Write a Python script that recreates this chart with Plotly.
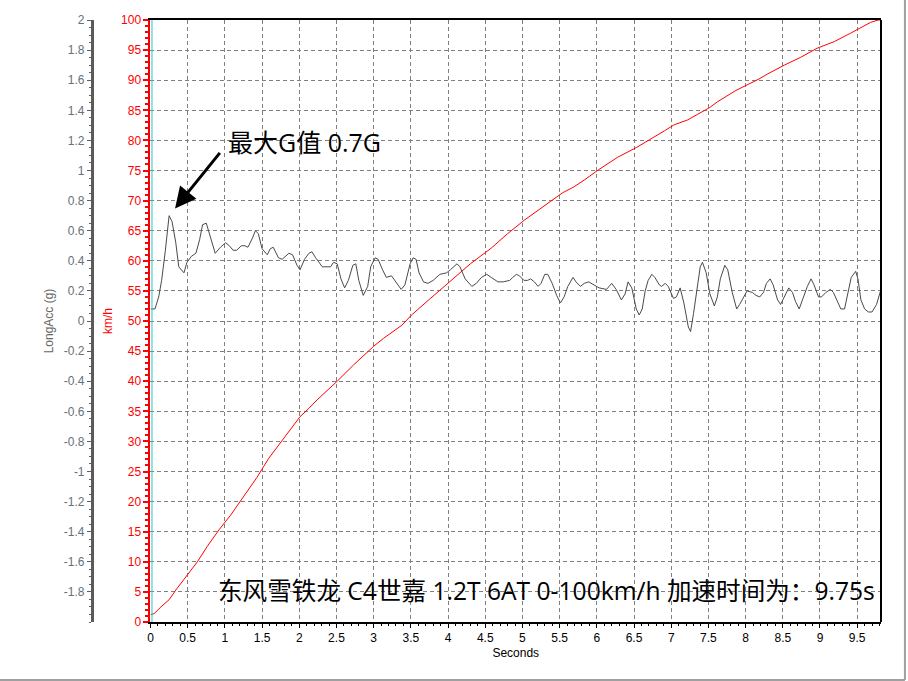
import plotly.graph_objects as go

# ---- data ----
acc_t = [0.00, 0.06, 0.11, 0.15, 0.20, 0.25, 0.29, 0.34, 0.38, 0.45, 0.49, 0.55, 0.61, 0.66, 0.70, 0.75,
         0.81, 0.87, 0.94, 1.01, 1.06, 1.11, 1.16, 1.22, 1.27, 1.31, 1.37, 1.41, 1.45, 1.50, 1.57, 1.61,
         1.65, 1.72, 1.77, 1.86, 1.91, 1.97, 2.01, 2.07, 2.13, 2.17, 2.22, 2.31, 2.42, 2.46, 2.51, 2.56,
         2.61, 2.66, 2.72, 2.76, 2.80, 2.86, 2.92, 2.96, 3.02, 3.06, 3.12, 3.17, 3.24, 3.31, 3.37, 3.42,
         3.49, 3.53, 3.57, 3.61, 3.67, 3.73, 3.80, 3.89, 3.98, 4.03, 4.12, 4.16, 4.23, 4.32, 4.38, 4.45,
         4.52, 4.58, 4.67, 4.74, 4.83, 4.87, 4.92, 4.96, 5.02, 5.07, 5.11, 5.16, 5.21, 5.25, 5.30, 5.34,
         5.40, 5.46, 5.51, 5.56, 5.61, 5.68, 5.72, 5.78, 5.83, 5.89, 5.97, 6.03, 6.13, 6.20, 6.26, 6.33,
         6.38, 6.42, 6.47, 6.53, 6.57, 6.61, 6.65, 6.69, 6.74, 6.78, 6.84, 6.87, 6.92, 6.96, 7.03, 7.07,
         7.12, 7.17, 7.23, 7.26, 7.30, 7.35, 7.39, 7.42, 7.47, 7.52, 7.58, 7.62, 7.66, 7.72, 7.76, 7.82,
         7.88, 7.92, 7.98, 8.02, 8.09, 8.14, 8.19, 8.24, 8.28, 8.33, 8.37, 8.43, 8.47, 8.51, 8.58, 8.63,
         8.67, 8.72, 8.77, 8.83, 8.88, 8.92, 8.98, 9.02, 9.08, 9.14, 9.18, 9.23, 9.28, 9.33, 9.37, 9.42,
         9.48, 9.51, 9.55, 9.60, 9.65, 9.70, 9.76, 9.82]
acc_g = [0.08, 0.08, 0.16, 0.27, 0.47, 0.70, 0.66, 0.52, 0.36, 0.32, 0.39, 0.43, 0.45, 0.54, 0.64, 0.65,
         0.55, 0.45, 0.49, 0.52, 0.50, 0.47, 0.47, 0.50, 0.50, 0.49, 0.55, 0.60, 0.58, 0.48, 0.44, 0.48,
         0.49, 0.42, 0.41, 0.45, 0.44, 0.37, 0.34, 0.41, 0.45, 0.46, 0.42, 0.36, 0.36, 0.39, 0.38, 0.28,
         0.22, 0.27, 0.37, 0.38, 0.27, 0.17, 0.23, 0.36, 0.42, 0.41, 0.34, 0.29, 0.30, 0.25, 0.21, 0.24,
         0.38, 0.42, 0.41, 0.32, 0.26, 0.25, 0.27, 0.31, 0.32, 0.34, 0.38, 0.36, 0.28, 0.23, 0.25, 0.29,
         0.31, 0.29, 0.26, 0.26, 0.27, 0.29, 0.31, 0.30, 0.27, 0.27, 0.28, 0.26, 0.23, 0.25, 0.31, 0.31,
         0.25, 0.17, 0.12, 0.16, 0.23, 0.29, 0.26, 0.23, 0.25, 0.26, 0.24, 0.22, 0.21, 0.25, 0.21, 0.14,
         0.18, 0.26, 0.22, 0.08, 0.04, 0.08, 0.20, 0.27, 0.31, 0.29, 0.24, 0.23, 0.25, 0.23, 0.15, 0.16,
         0.22, 0.12, -0.04, -0.07, 0.05, 0.24, 0.36, 0.39, 0.32, 0.18, 0.10, 0.16, 0.28, 0.37, 0.34, 0.19,
         0.08, 0.11, 0.16, 0.20, 0.19, 0.17, 0.16, 0.19, 0.25, 0.28, 0.24, 0.14, 0.11, 0.15, 0.22, 0.19,
         0.13, 0.08, 0.15, 0.23, 0.28, 0.24, 0.16, 0.16, 0.19, 0.21, 0.19, 0.13, 0.08, 0.08, 0.17, 0.29,
         0.33, 0.28, 0.14, 0.08, 0.06, 0.06, 0.11, 0.21]

spd_t = [0.00, 0.05, 0.14, 0.25, 0.34, 0.50, 0.63, 0.76, 0.92, 1.08, 1.26, 1.43, 1.59, 1.77, 1.90, 2.01,
         2.13, 2.24, 2.51, 2.64, 2.73, 3.00, 3.13, 3.38, 3.51, 3.74, 4.05, 4.30, 4.58, 4.80, 5.03, 5.25,
         5.41, 5.54, 5.68, 5.83, 6.02, 6.28, 6.53, 6.73, 6.91, 7.04, 7.22, 7.35, 7.51, 7.62, 7.87, 8.18,
         8.29, 8.52, 8.74, 8.96, 9.19, 9.41, 9.68, 9.78, 9.82]
spd_kmh = [1.2, 1.4, 2.5, 3.7, 5.3, 7.8, 10.0, 12.5, 15.3, 17.8, 21.0, 24.0, 27.2, 30.2, 32.2, 34.1,
           35.5, 36.9, 40.0, 41.6, 42.7, 45.8, 47.1, 49.3, 51.0, 53.5, 56.8, 59.5, 62.1, 64.5, 66.8, 68.7,
           70.1, 71.3, 72.2, 73.4, 75.1, 77.2, 78.8, 80.2, 81.6, 82.6, 83.4, 84.3, 85.4, 86.4, 88.3, 90.2,
           91.0, 92.5, 93.8, 95.3, 96.4, 97.8, 99.6, 100.0, 100.0]

x_ticks = [i * 0.5 for i in range(20)]
x_labels = [("%g" % v) for v in x_ticks]
g_ticks = [round(-1.8 + 0.2 * i, 1) for i in range(20)]
g_labels = [("%g" % v) for v in g_ticks]
kmh_ticks = list(range(0, 101, 5))

peak_label = "最大G值 0.7G"
result_label = "东风雪铁龙 C4世嘉 1.2T 6AT 0-100km/h 加速时间为：9.75s"

# ---- figure ----
W, H = 908, 681
ML, MR, MT, MB = 0, 27, 20, 59
PW = W - ML - MR
PH = H - MT - MB
x0_px = 148
dom0 = (x0_px - ML) / PW

fig = go.Figure()
fig.add_trace(go.Scatter(x=acc_t, y=acc_g, yaxis="y2", mode="lines",
                         line=dict(color="#4a4a4a", width=1), showlegend=False, hoverinfo="skip"))
fig.add_trace(go.Scatter(x=spd_t, y=spd_kmh, yaxis="y", mode="lines",
                         line=dict(color="#ff0000", width=1), showlegend=False, hoverinfo="skip"))

base_font = "Liberation Sans, Arial, sans-serif"
cjk_font = "Open Sans, Noto Sans CJK SC, sans-serif"
grid_col = "#808080"

fig.update_layout(
    width=W, height=H,
    margin=dict(l=ML, r=MR, t=MT, b=MB, pad=0),
    paper_bgcolor="white", plot_bgcolor="white",
    font=dict(family=base_font, size=12, color="black"),
    xaxis=dict(
        domain=[dom0, 1], range=[0, 9.82], tickvals=x_ticks, ticktext=x_labels,
        ticks="outside", ticklen=4, tickcolor="black", tickwidth=1,
        minor=dict(dtick=0.1, ticks="outside", ticklen=2, tickcolor="black", showgrid=False),
        showline=True, linecolor="black", linewidth=2, mirror=True,
        showgrid=True, gridcolor=grid_col, griddash="4px,3px", gridwidth=1,
        zeroline=False, tickfont=dict(size=12, color="black"),
        title=dict(text="Seconds", font=dict(size=12, color="black"), standoff=4),
    ),
    yaxis=dict(
        range=[0, 100], tickvals=kmh_ticks, side="left",
        ticks="outside", ticklen=5, tickcolor="#ff0000", tickwidth=1.5,
        minor=dict(dtick=1, ticks="outside", ticklen=3, tickcolor="#ff0000", tickwidth=1.5, showgrid=False),
        showline=True, linecolor="#ff0000", linewidth=2,
        showgrid=True, gridcolor=grid_col, griddash="4px,3px", gridwidth=1,
        zeroline=False, tickfont=dict(size=12, color="#ff0000"),
        title=dict(text="km/h", font=dict(size=12, color="#ff0000"), standoff=6),
    ),
    yaxis2=dict(
        overlaying="y", anchor="free", position=(89 - ML) / PW, side="left",
        range=[-2, 2], tickvals=g_ticks, ticktext=g_labels,
        ticks="outside", ticklen=4, tickcolor="#606060", tickwidth=1,
        minor=dict(dtick=0.05, ticks="outside", ticklen=2, tickcolor="#606060", showgrid=False),
        showline=True, linecolor="#5a5a5a", linewidth=2.5,
        showgrid=False, zeroline=False, tickfont=dict(size=12, color="#66707a"),
        title=dict(text="LongAcc (g)", font=dict(size=12, color="#666666"), standoff=6),
    ),
    shapes=[
        dict(type="line", xref="paper", yref="paper", x0=dom0 + 1.5 / PW, x1=dom0 + 1.5 / PW, y0=0, y1=1,
             line=dict(color="#20c8d0", width=1)),
        dict(type="line", xref="paper", yref="paper", x0=1, x1=1, y0=0, y1=1,
             line=dict(color="black", width=2)),
        dict(type="line", xref="paper", yref="paper", x0=-0.01, x1=(905 - ML) / PW,
             y0=-(680 - (MT + PH)) / PH, y1=-(680 - (MT + PH)) / PH,
             line=dict(color="#a0a0a0", width=2)),
        dict(type="line", xref="paper", yref="paper", x0=(905 - ML) / PW, x1=(905 - ML) / PW,
             y0=-(680 - (MT + PH)) / PH, y1=1 + MT / PH + 0.01,
             line=dict(color="#a0a0a0", width=2)),
    ],
    annotations=[
        dict(x=0.33, y=68.7, xref="x", yref="y", text="", showarrow=True,
             ax=46, ay=-57, arrowhead=2, arrowsize=1.4, arrowwidth=3, arrowcolor="black"),
        dict(x=1.02, y=79.7, xref="x", yref="y", text=peak_label, showarrow=False,
             xanchor="left", yanchor="middle", font=dict(family=cjk_font, size=25, color="black")),
        dict(x=9.77, y=5.2, xref="x", yref="y", text=result_label, showarrow=False,
             xanchor="right", yanchor="middle", font=dict(family=cjk_font, size=24.6, color="black")),
    ],
)

fig.write_html("out.html")
